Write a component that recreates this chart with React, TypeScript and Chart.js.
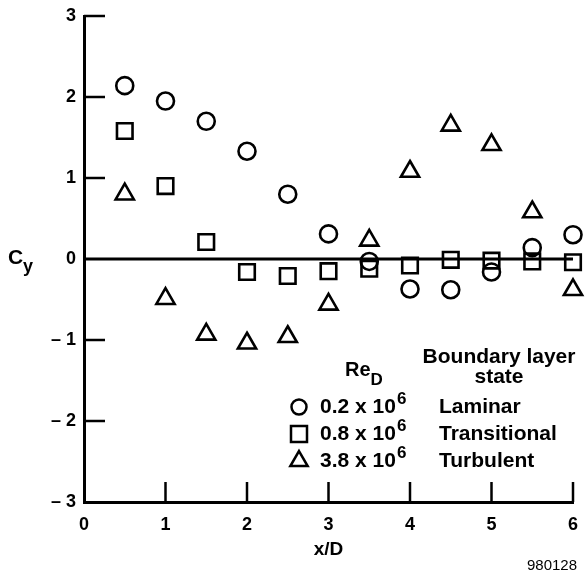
import React, { useEffect, useRef } from "react";
import { Chart, registerables } from "chart.js";

Chart.register(...registerables);

const xPositions = [0.5, 1, 1.5, 2, 2.5, 3, 3.5, 4, 4.5, 5, 5.5, 6];
const laminarValues = [2.14, 1.95, 1.7, 1.33, 0.8, 0.31, -0.03, -0.37, -0.38, -0.16, 0.14, 0.3];
const transitionalValues = [1.58, 0.9, 0.21, -0.16, -0.21, -0.15, -0.12, -0.08, -0.01, -0.02, -0.03, -0.04];
const turbulentValues = [0.8, -0.49, -0.93, -1.04, -0.96, -0.56, 0.23, 1.08, 1.65, 1.41, 0.58, -0.38];

const seriesRe = ["0.2 x 10", "0.8 x 10", "3.8 x 10"];
const seriesState = ["Laminar", "Transitional", "Turbulent"];
const seriesStyles = ["circle", "rect", "triangle"];
const seriesRadius = [8.5, 11, 10.5];

const xTicks = [0, 1, 2, 3, 4, 5, 6];
const yTicks = [-3, -2, -1, 0, 1, 2, 3];

const FONT = "'Liberation Sans', Arial, Helvetica, sans-serif";

const drawPlugin = {
  id: "figureDecor",
  beforeDatasetsDraw(chart: any) {
    const { ctx, chartArea, scales } = chart;
    const xs = scales.x;
    const ys = scales.y;
    ctx.save();
    ctx.strokeStyle = "#000";
    ctx.lineWidth = 3;
    ctx.beginPath();
    const y0 = ys.getPixelForValue(0);
    ctx.moveTo(chartArea.left, y0);
    ctx.lineTo(chartArea.right, y0);
    ctx.stroke();
    ctx.lineWidth = 2.5;
    yTicks.forEach((v) => {
      if (v === 0 || v === -3) return;
      const py = ys.getPixelForValue(v);
      ctx.beginPath();
      ctx.moveTo(chartArea.left, py);
      ctx.lineTo(chartArea.left + 21, py);
      ctx.stroke();
    });
    xTicks.forEach((v) => {
      if (v === 0) return;
      const px = xs.getPixelForValue(v);
      ctx.beginPath();
      ctx.moveTo(px, chartArea.bottom);
      ctx.lineTo(px, chartArea.bottom - 20);
      ctx.stroke();
    });
    ctx.restore();
  },
  afterDraw(chart: any) {
    const { ctx, scales } = chart;
    const xs = scales.x;
    const ys = scales.y;
    ctx.save();
    ctx.fillStyle = "#000";
    ctx.textBaseline = "middle";

    // Cy label
    ctx.textAlign = "left";
    ctx.font = `bold 21px ${FONT}`;
    ctx.fillText("C", 8, ys.getPixelForValue(0) - 1);
    ctx.font = `bold 18px ${FONT}`;
    ctx.fillText("y", 23, ys.getPixelForValue(0) + 8);

    // x/D label
    ctx.textAlign = "center";
    ctx.font = `bold 19px ${FONT}`;
    ctx.fillText("x/D", xs.getPixelForValue(3), 550);

    // figure number
    ctx.font = `15px ${FONT}`;
    ctx.textAlign = "right";
    ctx.fillText("980128", 577, 566);

    // legend
    const lx = 299;
    const textX = lx + 21;
    const stateX = 439;
    ctx.font = `bold 20px ${FONT}`;
    ctx.textAlign = "left";
    ctx.fillText("Re", 345, 370);
    const reW = ctx.measureText("Re").width;
    ctx.font = `bold 17px ${FONT}`;
    ctx.fillText("D", 345 + reW, 380);

    ctx.font = `bold 21px ${FONT}`;
    ctx.textAlign = "center";
    ctx.fillText("Boundary layer", 499, 357);
    ctx.fillText("state", 499, 377);

    const rowY = [407, 434, 461];
    seriesRe.forEach((label, i) => {
      const py = rowY[i];
      ctx.lineWidth = 2.5;
      ctx.strokeStyle = "#000";
      ctx.beginPath();
      if (i === 0) {
        ctx.arc(lx, py, 7.5, 0, Math.PI * 2);
      } else if (i === 1) {
        ctx.rect(lx - 8, py - 8, 16, 16);
      } else {
        const r = 10;
        ctx.moveTo(lx, py - r);
        ctx.lineTo(lx + r * 0.866, py + r * 0.5);
        ctx.lineTo(lx - r * 0.866, py + r * 0.5);
        ctx.closePath();
      }
      ctx.stroke();
      ctx.textAlign = "left";
      ctx.font = `bold 21px ${FONT}`;
      ctx.fillText(label, textX, py);
      const w = ctx.measureText(label).width;
      ctx.font = `bold 17px ${FONT}`;
      ctx.fillText("6", textX + w + 1, py - 8);
      ctx.font = `bold 21px ${FONT}`;
      ctx.fillText(seriesState[i], stateX, py);
    });
    ctx.restore();
  },
};

export default function App() {
  const ref = useRef<HTMLCanvasElement | null>(null);
  useEffect(() => {
    if (!ref.current) return;
    const mk = (vals: number[]) => xPositions.map((x, i) => ({ x, y: vals[i] }));
    const allSeries = [laminarValues, transitionalValues, turbulentValues];
    const chart = new Chart(ref.current, {
      type: "scatter",
      data: {
        datasets: allSeries.map((vals, i) => ({
          label: seriesState[i],
          data: mk(vals),
          clip: false as any,
          pointStyle: seriesStyles[i] as any,
          pointRadius: seriesRadius[i],
          pointBorderWidth: 2.6,
          borderColor: "#000",
          backgroundColor: "rgba(0,0,0,0)",
          pointBackgroundColor: "rgba(0,0,0,0)",
          pointBorderColor: "#000",
        })),
      },
      options: {
        animation: false,
        responsive: true,
        maintainAspectRatio: false,
        events: [],
        layout: { autoPadding: false, padding: { top: 16, right: 12, left: 0, bottom: 0 } },
        plugins: {
          legend: { display: false },
          tooltip: { enabled: false },
          title: { display: false },
        },
        scales: {
          x: {
            type: "linear",
            min: 0,
            max: 6,
            afterFit: (s: any) => {
              s.height = 72;
              s.paddingLeft = 0;
              s.paddingRight = 0;
            },
            afterBuildTicks: (s: any) => {
              s.ticks = xTicks.map((v) => ({ value: v }));
            },
            ticks: {
              color: "#000",
              font: { family: FONT, size: 18, weight: "bold" },
              padding: 12,
              maxRotation: 0,
            },
            grid: { display: false, drawTicks: false },
            border: { display: true, color: "#000", width: 3 },
          },
          y: {
            type: "linear",
            min: -3,
            max: 3,
            afterFit: (s: any) => {
              s.width = 84;
              s.paddingTop = 0;
              s.paddingBottom = 0;
            },
            afterBuildTicks: (s: any) => {
              s.ticks = yTicks.map((v) => ({ value: v }));
            },
            ticks: {
              color: "#000",
              font: { family: FONT, size: 18, weight: "bold" },
              padding: 8,
              callback: (v: any) => (Number(v) < 0 ? `\u2013 ${Math.abs(Number(v))}` : `${v}`),
            },
            grid: { display: false, drawTicks: false },
            border: { display: true, color: "#000", width: 3 },
          },
        },
      },
      plugins: [drawPlugin],
    });
    return () => chart.destroy();
  }, []);
  return (
    <div style={{ position: "absolute", left: 0, top: 0, width: 585, height: 574, background: "#fff" }}>
      <canvas ref={ref} />
    </div>
  );
}
